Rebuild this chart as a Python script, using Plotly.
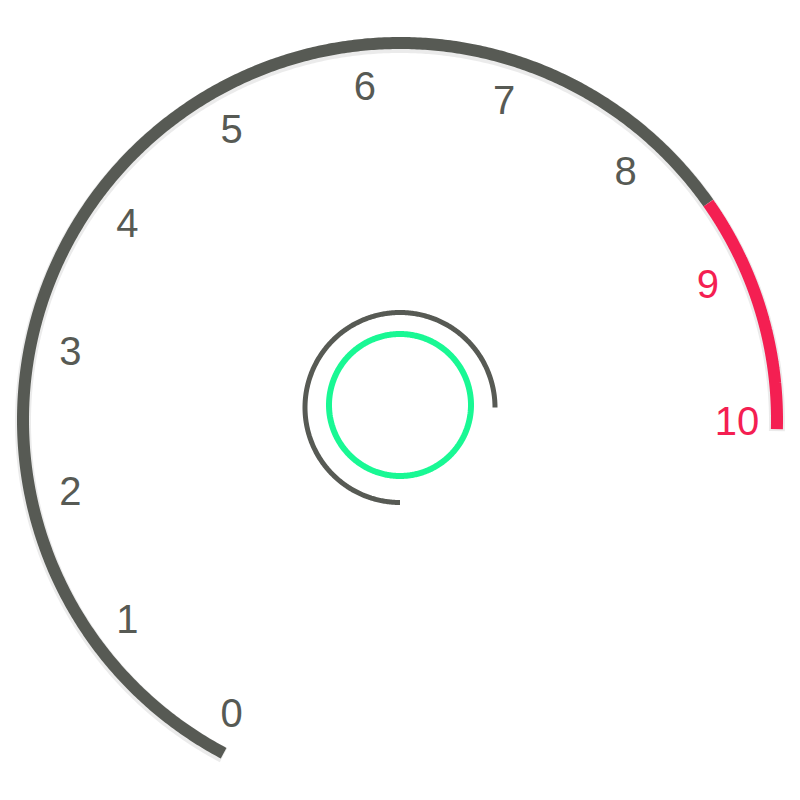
import numpy as np
import plotly.graph_objects as go

# ---- data ----
gauge_min = 0
gauge_max = 10
tick_values = list(range(0, 11))
tick_labels = [str(v) for v in tick_values]
axis_color_stops = [0.85, 1.0]          # ECharts-style axisLine color stops
axis_colors = ["#575a54", "#f41f52"]
inner_arc_progress = 0.75                # fraction of the inner dark ring
inner_arc_color = "#575a54"
inner_circle_color = "#19f894"

# ---- layout constants ----
W = H = 800
OFF = 8                              # page body margin compensation
CX, CY = 400, 420
R_LINE = 377
LINE_W = 12
R_LABEL = 337
LABEL_DY = 5
START, END = 240.0, 0.0            # label angles (deg)
LINE_START, LINE_END = 242.1, -1.4  # axis line angles (deg)

def pt(angle_deg, r, cx=CX, cy=CY):
    a = np.radians(angle_deg)
    return cx + r * np.cos(a), cy - r * np.sin(a)

fig = go.Figure()

# shadow under the axis line
t = np.linspace(LINE_START, LINE_END, 600)
sx, sy = pt(t, R_LINE, CX, CY + 2)
fig.add_trace(go.Scatter(x=sx, y=sy, mode="lines",
                         line=dict(color="rgba(0,0,0,0.08)", width=LINE_W + 4, simplify=False),
                         hoverinfo="skip"))

# axis line segments
prev = 0.0
for stop, col in zip(axis_color_stops, axis_colors):
    f = np.linspace(prev, stop, 500)
    ang = LINE_START + f * (LINE_END - LINE_START)
    x, y = pt(ang, R_LINE)
    fig.add_trace(go.Scatter(x=x, y=y, mode="lines",
                             line=dict(color=col, width=LINE_W, simplify=False),
                             hoverinfo="skip"))
    prev = stop

# labels
def label_color(v):
    frac = (v - gauge_min) / (gauge_max - gauge_min)
    for stop, col in zip(axis_color_stops, axis_colors):
        if frac <= stop:
            return col
    return axis_colors[-1]

for v, lab in zip(tick_values, tick_labels):
    ang = START + (v - gauge_min) / (gauge_max - gauge_min) * (END - START)
    x, y = pt(ang, R_LABEL)
    fig.add_trace(go.Scatter(x=[x], y=[y + LABEL_DY], mode="text", text=[lab],
                             textposition="middle center",
                             textfont=dict(size=40, color=label_color(v),
                                           family="Liberation Sans, Arial"),
                             hoverinfo="skip"))

# inner dark arc
t = np.linspace(0, 1, 400)
ang = 270 - t * 360 * inner_arc_progress
x, y = pt(ang, 95, 400, 407.5)
fig.add_trace(go.Scatter(x=x, y=y, mode="lines",
                         line=dict(color=inner_arc_color, width=5, simplify=False),
                         hoverinfo="skip"))

# inner green circle
ang = np.linspace(0, 360, 500)
x, y = pt(ang, 71, 400, 405)
fig.add_trace(go.Scatter(x=x, y=y, mode="lines",
                         line=dict(color=inner_circle_color, width=6, simplify=False),
                         hoverinfo="skip"))

fig.update_layout(
    width=W, height=H,
    margin=dict(l=0, r=0, t=0, b=0),
    paper_bgcolor="white", plot_bgcolor="white",
    showlegend=False,
    xaxis=dict(range=[OFF, W + OFF], visible=False, fixedrange=True),
    yaxis=dict(range=[H + OFF, OFF], visible=False, fixedrange=True),
)

fig.write_html("out.html", config={"displayModeBar": False})
